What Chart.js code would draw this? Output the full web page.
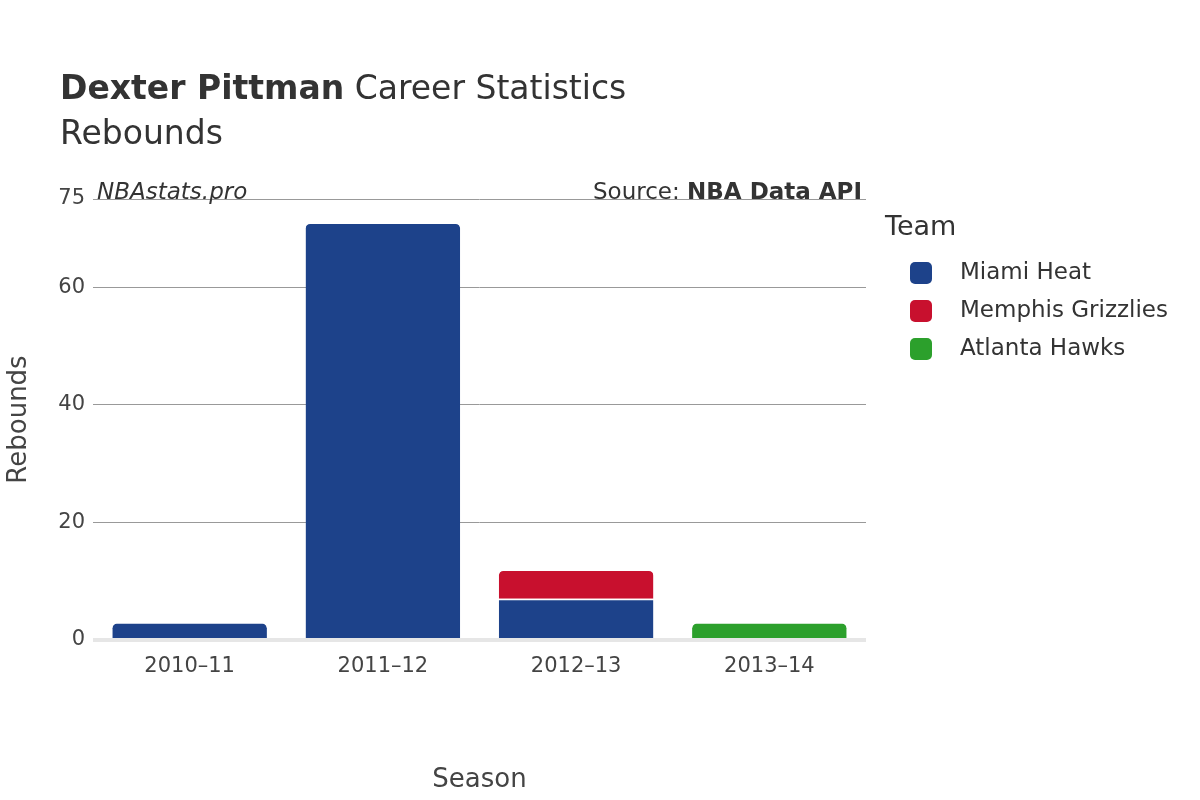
<!DOCTYPE html>
<html><head><meta charset="utf-8">
<script src="https://cdn.jsdelivr.net/npm/chart.js@4/dist/chart.umd.min.js"></script>
<style>
body{margin:0;width:1200px;height:800px;background:#fff;font-family:"DejaVu Sans",sans-serif;color:#333;position:relative;overflow:hidden}
.t{position:absolute;white-space:nowrap}
#c{position:absolute;left:0;top:0}
.sw{display:inline-block;width:22px;height:22px;border-radius:5px;vertical-align:middle;margin-right:28px}
</style></head><body>
<canvas id="c" width="1200" height="800"></canvas>
<div class="t" style="left:60px;top:68px;font-size:33px"><b>Dexter Pittman</b> Career Statistics</div>
<div class="t" style="left:60px;top:113px;font-size:33px">Rebounds</div>
<div class="t" style="left:97px;top:178px;font-size:23px;font-style:italic">NBAstats.pro</div>
<div class="t" style="right:338px;top:178px;font-size:23px">Source: <b>NBA Data API</b></div>
<div class="t" style="left:885px;top:210px;font-size:27px">Team</div>
<div id="leg" class="t" style="left:910px;top:252px;font-size:23px;line-height:38px"></div>
<script>
const seasons=["2010\u201311","2011\u201312","2012\u201313","2013\u201314"];
const teams=["Miami Heat","Memphis Grizzlies","Atlanta Hawks"];
const colors=["#1d428a","#c8102e","#2ca02c"];
const miami=[3,71,7,null];
const memphis=[null,null,5,null];
const atlanta=[null,null,null,3];
const series=[miami,memphis,atlanta];
document.getElementById('leg').innerHTML=teams.map((t,i)=>`<div><span class="sw" style="background:${colors[i]}"></span>${t}</div>`).join('');
function topIdx(j){let k=-1;series.forEach((s,i)=>{if(s[j]!=null)k=i});return k;}
new Chart(document.getElementById('c'),{type:'bar',
data:{labels:seasons,datasets:series.map((s,i)=>({label:teams[i],data:s,backgroundColor:colors[i],borderColor:'#fff',borderWidth:{top:1.5},borderSkipped:'bottom',
 borderRadius:ctx=>topIdx(ctx.dataIndex)===i?{topLeft:6,topRight:6,bottomLeft:0,bottomRight:0}:0,
 barPercentage:0.8,categoryPercentage:1}))},
options:{responsive:false,animation:false,layout:{padding:{left:0,right:334,top:199,bottom:0}},
plugins:{legend:{display:false},tooltip:{enabled:false}},
scales:{
 x:{stacked:true,grid:{display:false},border:{display:false},ticks:{color:'#444',font:{size:21,family:'DejaVu Sans'},padding:6},
  title:{display:true,text:'Season',color:'#444',font:{size:26,family:'DejaVu Sans'},padding:{top:22}},
  afterFit:s=>{s.height=160}},
 y:{stacked:true,min:0,max:75,border:{display:false},
  grid:{color:c=>c.tick.value===0?'#e6e6e6':'#999',lineWidth:c=>c.tick.value===0?4:1,drawTicks:false},
  ticks:{stepSize:20,color:'#444',font:{size:21,family:'DejaVu Sans'},padding:8},
  title:{display:true,text:'Rebounds',color:'#444',font:{size:26,family:'DejaVu Sans'},padding:{bottom:20}},
  afterFit:s=>{s.width=93}}
}}});
</script></body></html>
